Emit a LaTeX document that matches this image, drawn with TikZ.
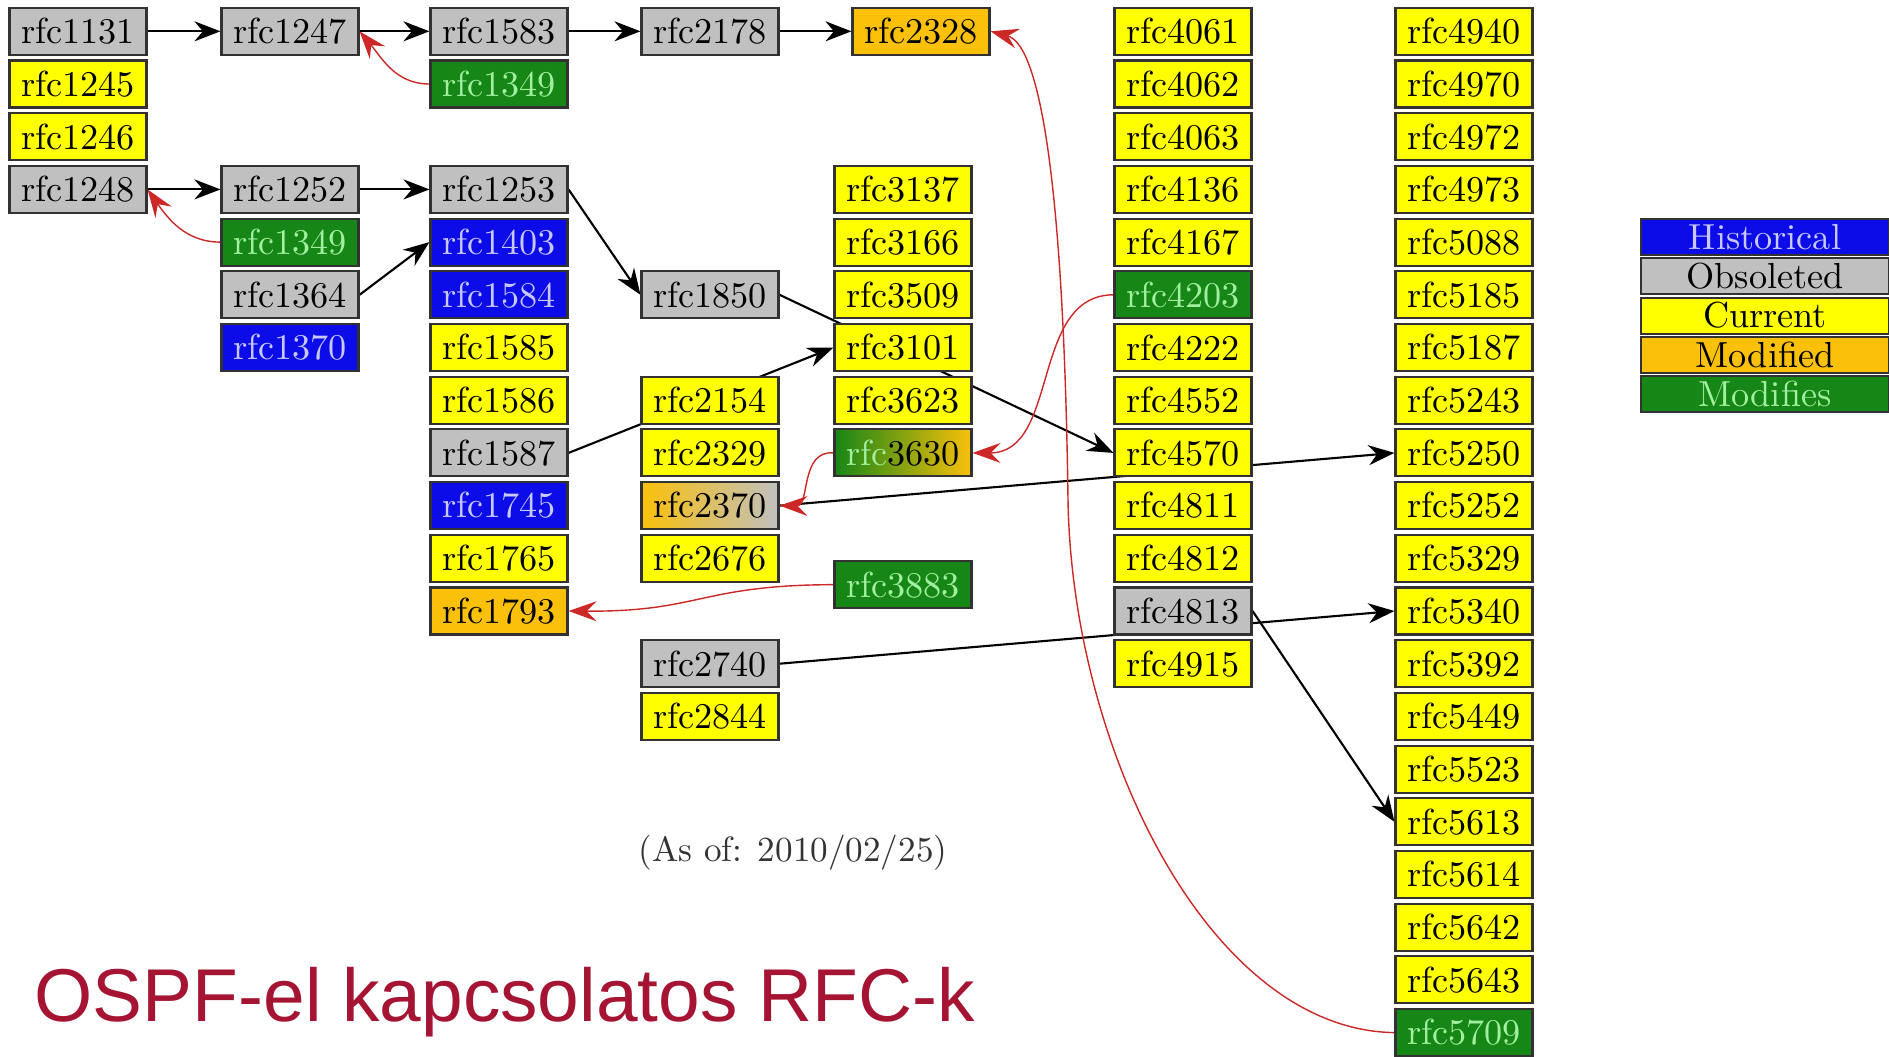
\documentclass[tikz,border=0pt]{standalone}
\usepackage{fontspec}
\newfontfamily\titlefont{Liberation Sans}
\usepackage{tikz}
\usetikzlibrary{positioning,arrows.meta,backgrounds}

\definecolor{histblue}{RGB}{12,12,232}
\definecolor{obsgray}{RGB}{192,192,192}
\definecolor{curyellow}{RGB}{255,255,0}
\definecolor{modorange}{RGB}{250,192,10}
\definecolor{modgreen}{RGB}{22,134,22}
\definecolor{histtext}{RGB}{200,200,255}
\definecolor{modtext}{RGB}{160,240,160}
\definecolor{framegray}{RGB}{50,50,50}
\definecolor{titlered}{RGB}{165,20,50}
\definecolor{modline}{RGB}{205,40,40}

\begin{document}
\begin{tikzpicture}[
    rfcbox/.style={draw=framegray, line width=0.6pt, minimum width=1.37cm, minimum height=0.47cm, inner sep=0pt, font=\fontsize{10.3}{12}\selectfont},
    historical/.style={rfcbox, fill=histblue, text=histtext},
    obsoleted/.style={rfcbox, fill=obsgray},
    current/.style={rfcbox, fill=curyellow},
    modified/.style={rfcbox, fill=modorange},
    modifies/.style={rfcbox, fill=modgreen, text=modtext},
    obsoletes/.style={-{Stealth[length=2.6mm,width=2mm]}, line width=0.6pt},
    updates/.style={-{Stealth[length=2.8mm,width=2mm,inset=1mm]}, draw=modline, line width=0.4pt}]
    \useasboundingbox (0,0) rectangle (18.89,-10.56);

    % Column 1
    \foreach \r/\n/\s in {0/1131/obsoleted, 1/1245/current, 2/1246/current, 3/1248/obsoleted} {
        \node [\s] (rfc\n) at (0.78, {-0.313-0.527*\r}) {rfc\n};
    }
    % Column 2
    \foreach \r/\n/\s in {0/1247/obsoleted, 3/1252/obsoleted, 5/1364/obsoleted, 6/1370/historical} {
        \node [\s] (rfc\n) at (2.90, {-0.313-0.527*\r}) {rfc\n};
    }
    \node [modifies] (rfc1349b) at (2.90, {-0.313-0.527*4}) {rfc1349};
    % Column 3
    \foreach \r/\n/\s in {0/1583/obsoleted, 3/1253/obsoleted, 4/1403/historical, 5/1584/historical, 6/1585/current, 7/1586/current, 8/1587/obsoleted, 9/1745/historical, 10/1765/current, 11/1793/modified} {
        \node [\s] (rfc\n) at (4.99, {-0.313-0.527*\r}) {rfc\n};
    }
    \node [modifies] (rfc1349a) at (4.99, {-0.313-0.527*1}) {rfc1349};
    % Column 4
    \foreach \r/\n/\s in {0/2178/obsoleted, 5/1850/obsoleted, 7/2154/current, 8/2329/current, 10/2676/current, 12/2740/obsoleted, 13/2844/current} {
        \node [\s] (rfc\n) at (7.10, {-0.313-0.527*\r}) {rfc\n};
    }
    \node [rfcbox, left color=modorange, right color=obsgray] (rfc2370) at (7.10, {-0.313-0.527*9}) {rfc2370};
    % Column 5
    \foreach \r/\n/\s in {3/3137/current, 4/3166/current, 5/3509/current, 6/3101/current, 7/3623/current, 10.5/3883/modifies} {
        \node [\s] (rfc\n) at (9.03, {-0.313-0.527*\r}) {rfc\n};
    }
    \node [rfcbox, left color=modgreen, right color=modorange] (rfc3630) at (9.03, {-0.313-0.527*8}) {\textcolor{modtext}{rfc}3630};
    \node [modified] (rfc2328) at (9.21, -0.313) {rfc2328};
    % Column 6
    \foreach \r/\n/\s in {0/4061/current, 1/4062/current, 2/4063/current, 3/4136/current, 4/4167/current, 5/4203/modifies, 6/4222/current, 7/4552/current, 8/4570/current, 9/4811/current, 10/4812/current, 11/4813/obsoleted, 12/4915/current} {
        \node [\s] (rfc\n) at (11.83, {-0.313-0.527*\r}) {rfc\n};
    }
    % Column 7
    \foreach \r/\n/\s in {0/4940/current, 1/4970/current, 2/4972/current, 3/4973/current, 4/5088/current, 5/5185/current, 6/5187/current, 7/5243/current, 8/5250/current, 9/5252/current, 10/5329/current, 11/5340/current, 12/5392/current, 13/5449/current, 14/5523/current, 15/5613/current, 16/5614/current, 17/5642/current, 18/5643/current, 19/5709/modifies} {
        \node [\s] (rfc\n) at (14.64, {-0.313-0.527*\r}) {rfc\n};
    }

    % Legend
    \foreach \i/\t/\s in {0/Historical/historical, 1/Obsoleted/obsoleted, 2/Current/current, 3/Modified/modified, 4/Modifies/modifies} {
        \node [\s, minimum width=2.48cm, minimum height=0.36cm] (leg\s) at (17.65, {-2.37-0.393*\i}) {\t};
    }

    \node [font=\fontsize{10}{12}\selectfont, text=black!80] (asof) at (7.93,-8.53) {(As of: 2010/02/25)};
    \node [anchor=base west, inner sep=0pt, text=titlered, font=\titlefont\fontsize{21.3}{25}\selectfont] (title) at (0.34,-10.21) {OSPF-el kapcsolatos RFC-k};

    % Edges under the boxes
    \begin{scope}[on background layer]
        \draw [obsoletes] (rfc1131) -- (rfc1247);
        \draw [obsoletes] (rfc1247) -- (rfc1583);
        \draw [obsoletes] (rfc1583) -- (rfc2178);
        \draw [obsoletes] (rfc2178) -- (rfc2328);
        \draw [obsoletes] (rfc1248) -- (rfc1252);
        \draw [obsoletes] (rfc1252) -- (rfc1253);
        \draw [obsoletes] (rfc1253.east) -- (rfc1850.west);
        \draw [obsoletes] (rfc1364.east) -- (rfc1403.west);
        \draw [obsoletes] (rfc1850.east) -- (rfc4570.west);
        \draw [obsoletes] (rfc1587.east) -- (rfc3101.west);
        \draw [obsoletes] (rfc2370.east) -- (rfc5250.west);
        \draw [obsoletes] (rfc2740.east) -- (rfc5340.west);
        \draw [obsoletes] (rfc4813.east) -- (rfc5613.west);

        \draw [updates] (rfc1349a.west) to[out=180, in=-50] (rfc1247.east);
        \draw [updates] (rfc1349b.west) to[out=180, in=-55] (rfc1248.east);
        \draw [updates] (rfc5709.west) .. controls (12.1,-10.3) and (10.72,-7.5) .. (10.68,-5.0)
            .. controls (10.64,-2.0) and (10.42,-0.45) .. (rfc2328.east);
        \draw [updates] (rfc4203.west) .. controls (10.3,-2.95) and (10.6,-4.53) .. (rfc3630.east);
        \draw [updates] (rfc3630.west) .. controls (8.0,-4.5) and (8.1,-5.06) .. (rfc2370.east);
        \draw [updates] (rfc3883.west) .. controls (7.0,-5.85) and (7.0,-6.12) .. (rfc1793.east);
    \end{scope}
\end{tikzpicture}
\end{document}
